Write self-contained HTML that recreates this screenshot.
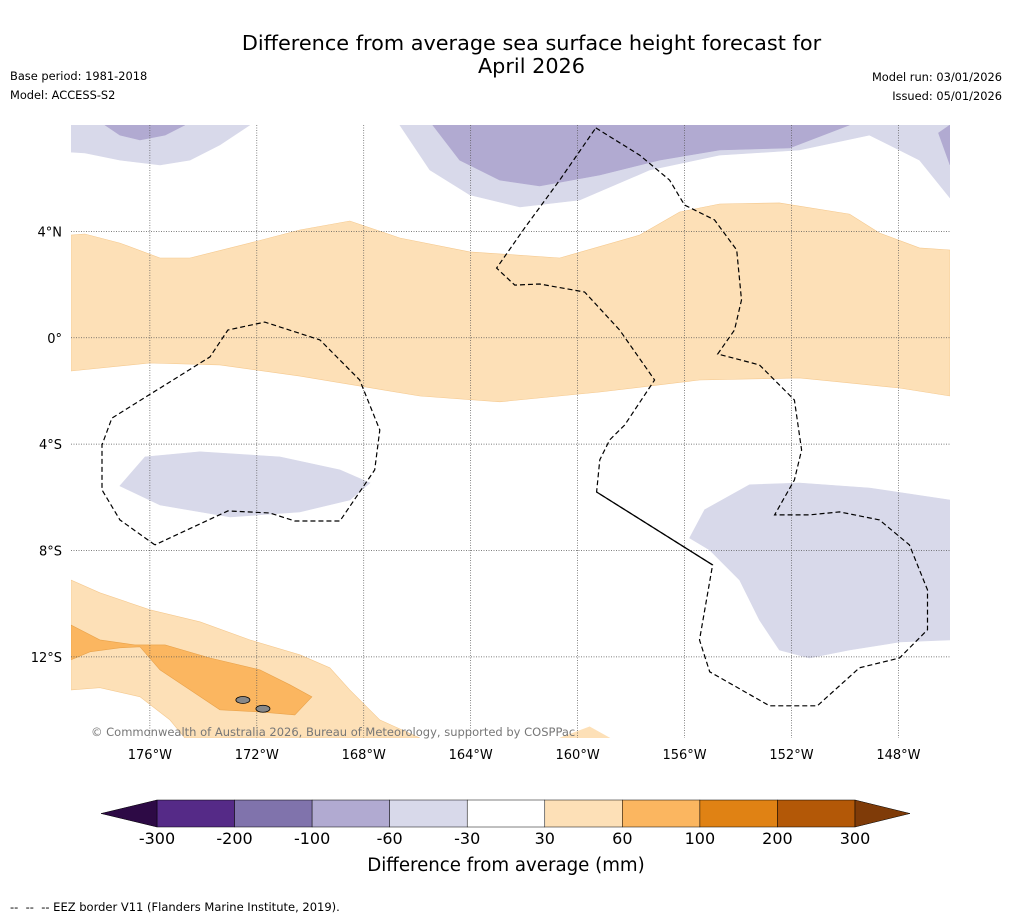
<!DOCTYPE html>
<html><head><meta charset="utf-8">
<style>
body{margin:0;background:#fff;font-family:"DejaVu Sans","Liberation Sans",sans-serif;}
#wrap{position:relative;width:1011px;height:919px;overflow:hidden;background:#fff;}
.t{position:absolute;color:#000;white-space:nowrap;}
svg text{font-family:"DejaVu Sans","Liberation Sans",sans-serif;}
</style></head>
<body>
<div id="wrap">
<div class="t" style="left:0;width:1063px;top:32px;text-align:center;font-size:20.8px;line-height:23px;">Difference from average sea surface height forecast for<br>April 2026</div>
<div class="t" style="left:10px;top:69px;font-size:11.4px;">Base period: 1981-2018</div>
<div class="t" style="left:10px;top:88px;font-size:11.4px;">Model: ACCESS-S2</div>
<div class="t" style="right:9px;top:70px;font-size:11.4px;">Model run: 03/01/2026</div>
<div class="t" style="right:9px;top:89px;font-size:11.4px;">Issued: 05/01/2026</div>
<div class="t" style="left:10px;top:900px;font-size:11.5px;">--&nbsp; --&nbsp; -- EEZ border V11 (Flanders Marine Institute, 2019).</div>
<svg id="svg" width="1011" height="919" style="position:absolute;left:0;top:0"></svg>
</div>
<script>
const NS="http://www.w3.org/2000/svg";
const svg=document.getElementById('svg');
// axes
const lonMin=-178.95, lonMax=-146.07, latMin=-15.05, latMax=8.0;
const X0=71,X1=950,Y0=125,Y1=738;
const lonTicks=[-176,-172,-168,-164,-160,-156,-152,-148];
const lonTickLabels=["176°W","172°W","168°W","164°W","160°W","156°W","152°W","148°W"];
const latTicks=[4,0,-4,-8,-12];
const latTickLabels=["4°N","0°","4°S","8°S","12°S"];
// colour scale
const levels=[-300,-200,-100,-60,-30,30,60,100,200,300];
const levelColors=["#552a87","#8073ac","#b1aad1","#d8d9ea","#ffffff","#fde0b7","#fbb660","#e08214","#b35807"];
const extendColors=["#2d0a45","#7f3b08"];
// contour polygons (lon west as positive degrees, lat)
const shapeLightLavTL=[[178.95,8],[172.26,8],[173.38,7.25],[174.5,6.68],[175.62,6.5],[177.12,6.68],[178.43,6.95],[178.95,6.98]];
const shapeLavTL=[[177.68,8],[174.69,8],[175.43,7.62],[176.37,7.44],[177.12,7.62]];
const shapeLightLavTM=[[166.65,8],[165.53,6.31],[164.03,5.37],[162.16,4.92],[159.92,5.18],[157.3,6.31],[154.69,6.87],[151.7,7.06],[149.08,7.62],[147.21,6.68],[146.07,5.26],[146.07,8]];
const shapeLavTM=[[165.42,8],[164.41,6.68],[162.91,5.93],[161.42,5.71],[159.17,6.12],[156.93,6.68],[154.69,7.06],[152.07,7.14],[149.83,8]];
const shapeLavTR=[[146.07,8],[146.5,7.7],[146.07,6.5]];
const shapeOrangeBand=[[178.95,3.86],[178.43,3.9],[177.12,3.56],[175.62,3.0],[174.5,3.0],[172.26,3.56],[170.39,4.05],[168.52,4.39],[166.65,3.75],[164.03,3.23],[160.67,3.0],[157.68,3.86],[156.18,4.73],[154.69,5.03],[152.45,5.07],[149.83,4.65],[148.71,3.94],[147.21,3.38],[146.07,3.3],[146.07,-2.19],[147.96,-1.89],[151.7,-1.51],[155.44,-1.59],[159.17,-2.04],[162.91,-2.41],[165.9,-2.19],[170.39,-1.44],[173.38,-1.02],[176.0,-0.95],[178.95,-1.25]];
const shapeLavLeft=[[176.18,-4.48],[174.13,-4.29],[171.14,-4.48],[168.89,-4.97],[167.77,-5.46],[168.52,-6.1],[170.39,-6.55],[172.99,-6.74],[175.62,-6.29],[177.12,-5.57]];
const shapeLavRight=[[155.25,-6.47],[153.57,-5.53],[151.7,-5.46],[149.08,-5.65],[146.07,-6.1],[146.07,-11.36],[147.96,-11.44],[149.83,-11.74],[151.33,-12.04],[152.45,-11.74],[153.2,-10.61],[153.94,-9.11],[155.06,-7.98],[155.81,-7.53]];
const shapeOrangeBL=[[178.95,-9.11],[177.87,-9.59],[176.0,-10.23],[174.13,-10.68],[172.26,-11.36],[170.39,-11.92],[169.27,-12.41],[168.52,-13.24],[167.4,-14.37],[165.9,-15.05],[174.69,-15.05],[175.25,-14.37],[176.37,-13.5],[177.87,-13.16],[178.95,-13.24]];
const shapeOrangeBot=[[160.67,-15.05],[159.55,-14.63],[158.8,-15.05]];
const shapeMidOrange=[[178.95,-10.8],[177.87,-11.36],[176.56,-11.55],[175.43,-11.55],[173.75,-12.04],[171.88,-12.49],[170.76,-13.05],[169.94,-13.5],[170.58,-14.18],[171.88,-14.07],[173.38,-13.99],[174.5,-13.24],[175.62,-12.49],[176.37,-11.62],[177.12,-11.66],[178.24,-11.81],[178.95,-12.11]];
// EEZ borders
const eez1=[[175.81,-7.79],[177.12,-6.85],[177.79,-5.72],[177.79,-4.03],[177.42,-3.02],[173.75,-0.72],[173.08,0.29],[171.7,0.59],[169.64,-0.08],[168.15,-1.59],[167.4,-3.47],[167.59,-4.97],[168.89,-6.89],[170.58,-6.89],[171.51,-6.59],[173.08,-6.51],[175.81,-7.79]];
const eez2=[[159.32,7.89],[157.68,6.87],[156.56,5.93],[156.0,4.99],[154.88,4.43],[154.05,3.3],[153.87,1.42],[154.13,0.29],[154.76,-0.61],[153.2,-1.02],[151.89,-2.34],[151.62,-4.22],[151.89,-5.35],[152.63,-6.66],[151.33,-6.66],[150.2,-6.55],[148.71,-6.85],[147.59,-7.79],[146.91,-9.48],[146.91,-10.98],[147.96,-12.04],[149.46,-12.41],[151.03,-13.84],[152.82,-13.84],[155.06,-12.56],[155.44,-11.36],[154.95,-8.54],[159.29,-5.8],[159.17,-4.59],[158.8,-3.84],[158.24,-3.28],[157.12,-1.59],[158.43,0.29],[159.74,1.72],[161.42,2.02],[162.35,1.98],[163.03,2.62],[161.98,4.13],[160.67,5.93],[159.32,7.89]];
const eezSolid=[[159.29,-5.8],[154.95,-8.54]];
const islands=[[172.52,-13.62],[171.77,-13.95]];

function xs(lon){return X0+(lon-lonMin)/(lonMax-lonMin)*(X1-X0);}
function ys(lat){return Y0+(latMax-lat)/(latMax-latMin)*(Y1-Y0);}
function pw(p){return xs(-p[0]).toFixed(1)+","+ys(p[1]).toFixed(1);}
function el(tag,attrs){const e=document.createElementNS(NS,tag);for(const k in attrs)e.setAttribute(k,attrs[k]);svg.appendChild(e);return e;}

const clip=el('clipPath',{id:'mapclip'});
const cr=document.createElementNS(NS,'rect');cr.setAttribute('x',X0);cr.setAttribute('y',Y0);cr.setAttribute('width',X1-X0);cr.setAttribute('height',Y1-Y0);clip.appendChild(cr);
const g=el('g',{'clip-path':'url(#mapclip)'});


function poly(pts,fill,name,stroke){const e=document.createElementNS(NS,'polygon');e.setAttribute('points',pts.map(pw).join(' '));e.setAttribute('fill',fill);e.setAttribute('stroke',stroke||fill);e.setAttribute('stroke-width','0.6');


g.appendChild(e);return e;}
poly(shapeLightLavTL,levelColors[3],'contour-lavender-topleft');
poly(shapeLavTL,levelColors[2],'contour-purple-topleft');
poly(shapeLightLavTM,levelColors[3],'contour-lavender-top');
poly(shapeLavTM,levelColors[2],'contour-purple-top');
poly(shapeLavTR,levelColors[2],'contour-purple-topright');
poly(shapeOrangeBand,levelColors[5],'contour-orange-equatorial-band','#f5c98f');
poly(shapeLavLeft,levelColors[3],'contour-lavender-left');
poly(shapeLavRight,levelColors[3],'contour-lavender-right');
poly(shapeOrangeBL,levelColors[5],'contour-orange-bottomleft','#f5c98f');
poly(shapeOrangeBot,levelColors[5],'contour-orange-bottom');
poly(shapeMidOrange,levelColors[6],'contour-midorange-bottomleft','#e9a24a');

// grid
lonTicks.forEach((t,i)=>{const x=xs(t);
 const l=el('line',{x1:x,x2:x,y1:Y0,y2:Y1,stroke:'#555','stroke-width':0.7,'stroke-dasharray':'1,1.5'});
 
 
 const tx=el('text',{x:x,y:759,'font-size':13,'text-anchor':'middle'});tx.textContent=lonTickLabels[i];
 
 });
latTicks.forEach((t,i)=>{const y=ys(t);
 const l=el('line',{x1:X0,x2:X1,y1:y,y2:y,stroke:'#555','stroke-width':0.7,'stroke-dasharray':'1,1.5'});
 
 
 const tx=el('text',{x:62,y:y+5,'font-size':13,'text-anchor':'end'});tx.textContent=latTickLabels[i];
 
 });

// EEZ
[eez1,eez2].forEach(a=>{const p=el('polyline',{points:a.map(pw).join(' '),fill:'none',stroke:'#000','stroke-width':1.2,'stroke-dasharray':'5,3','clip-path':'url(#mapclip)'});
 
 });
const sl=el('polyline',{points:eezSolid.map(pw).join(' '),fill:'none',stroke:'#000','stroke-width':1.3});


islands.forEach(p=>{const e=el('ellipse',{cx:xs(-p[0]),cy:ys(p[1]),rx:7,ry:3.5,fill:'#888',stroke:'#000','stroke-width':0.8});
 
 });

const cp=el('text',{x:91,y:736,'font-size':11.5,fill:'#777'});cp.textContent="© Commonwealth of Australia 2026, Bureau of Meteorology, supported by COSPPac";



// colorbar
const CB0=157,CB1=855,CBY=800,CBH=27;
const segW=(CB1-CB0)/(levels.length-1);
levelColors.forEach((c,i)=>{const r=el('rect',{x:CB0+i*segW,y:CBY,width:segW,height:CBH,fill:c,stroke:'#000','stroke-width':0.5});
 
 });
const tl=el('polygon',{points:`${CB0},${CBY} ${CB0},${CBY+CBH} 101,${CBY+CBH/2}`,fill:extendColors[0],stroke:'#000','stroke-width':0.5});


const tr=el('polygon',{points:`${CB1},${CBY} ${CB1},${CBY+CBH} 910,${CBY+CBH/2}`,fill:extendColors[1],stroke:'#000','stroke-width':0.5});


levels.forEach((v,i)=>{const t=el('text',{x:CB0+i*segW,y:844,'font-size':16,'text-anchor':'middle'});t.textContent=v;
 
 });
const ct=el('text',{x:506,y:871,'font-size':18.2,'text-anchor':'middle'});ct.textContent="Difference from average (mm)";


</script>
</body></html>
